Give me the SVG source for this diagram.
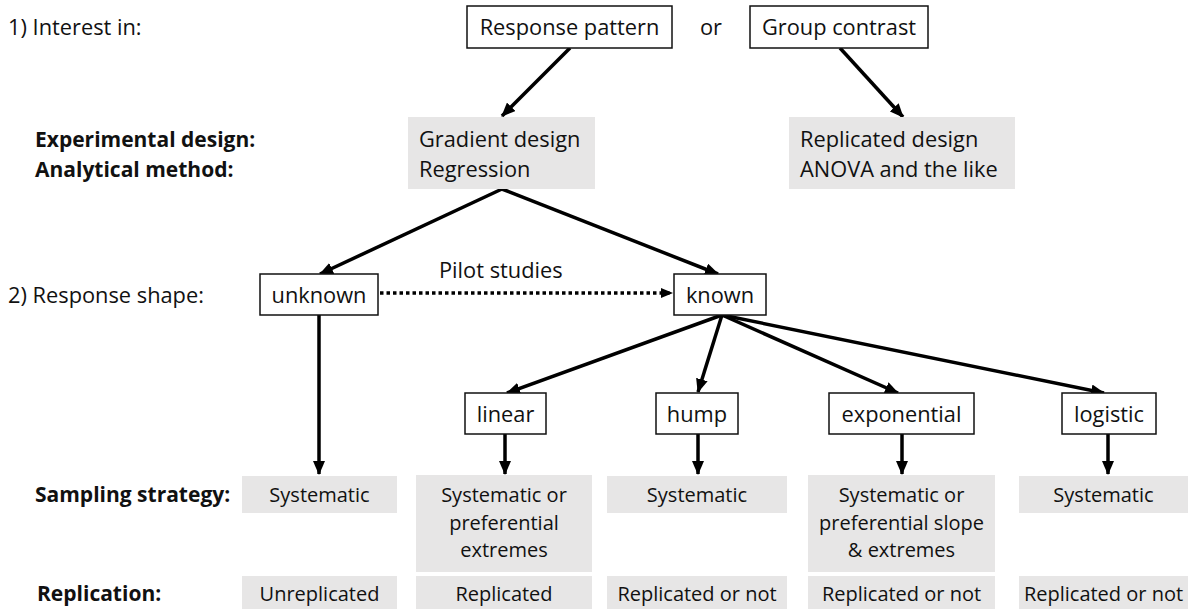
<svg xmlns="http://www.w3.org/2000/svg" width="1201" height="609" viewBox="0 0 1201 609">
<defs>
<style>
text{font-family:"Open Sans","Liberation Sans",sans-serif;font-size:21.8px;fill:#111}
.b{font-weight:bold;font-size:21px}
.c{text-anchor:middle}
.s{font-size:20px}
.box{fill:#fff;stroke:#111;stroke-width:1.5}
.g{fill:#e7e6e6}
.ln{stroke:#000;stroke-width:3.5;fill:none}
.dot{stroke:#000;stroke-width:3.5;fill:none;stroke-dasharray:3.5 3}
</style>
<marker id="ah" markerUnits="userSpaceOnUse" markerWidth="14" markerHeight="12" refX="13" refY="6" orient="auto"><path d="M0,0 L14,6 L0,12 z" fill="#000"/></marker>
<marker id="ahs" markerUnits="userSpaceOnUse" markerWidth="12" markerHeight="12" refX="11" refY="6" orient="auto"><path d="M0,1 L12,6 L0,11 z" fill="#000"/></marker>
</defs>
<rect width="1201" height="609" fill="#fff"/>
<g id="labels">
<text x="8" y="35">1) Interest in:</text>
<text x="700" y="35">or</text>
<text class="b" x="35" y="147">Experimental design:</text>
<text class="b" x="35" y="177">Analytical method:</text>
<text x="8" y="303">2) Response shape:</text>
<text x="439" y="278">Pilot studies</text>
<text class="b" x="35" y="502">Sampling strategy:</text>
<text class="b" x="37" y="601">Replication:</text>
</g>
<g id="connectors">
<line class="ln" x1="570" y1="48" x2="502" y2="116" marker-end="url(#ah)"/>
<line class="ln" x1="840" y1="48" x2="903" y2="117" marker-end="url(#ah)"/>
<line class="ln" x1="502" y1="189" x2="320" y2="274" marker-end="url(#ah)"/>
<line class="ln" x1="502" y1="189" x2="718" y2="274" marker-end="url(#ah)"/>
<line class="dot" x1="380" y1="293" x2="672" y2="293" marker-end="url(#ahs)"/>
<line class="ln" x1="319" y1="315" x2="319" y2="474" marker-end="url(#ah)"/>
<line class="ln" x1="722" y1="315" x2="507" y2="393" marker-end="url(#ah)"/>
<line class="ln" x1="722" y1="315" x2="698" y2="392" marker-end="url(#ah)"/>
<line class="ln" x1="722" y1="315" x2="898" y2="393" marker-end="url(#ah)"/>
<line class="ln" x1="722" y1="315" x2="1104" y2="393" marker-end="url(#ah)"/>
<line class="ln" x1="505" y1="434" x2="505" y2="474" marker-end="url(#ah)"/>
<line class="ln" x1="698" y1="433" x2="698" y2="474" marker-end="url(#ah)"/>
<line class="ln" x1="902" y1="434" x2="902" y2="474" marker-end="url(#ah)"/>
<line class="ln" x1="1108" y1="434" x2="1108" y2="474" marker-end="url(#ah)"/>
</g>
<g id="response-pattern"><rect class="box" x="467" y="6" width="205" height="42"/><text class="c" x="569.5" y="35">Response pattern</text></g>
<g id="group-contrast"><rect class="box" x="750" y="6" width="178" height="42"/><text class="c" x="839" y="35">Group contrast</text></g>
<g id="gradient-design"><rect class="g" x="408" y="117" width="187" height="72"/><text x="419" y="147">Gradient design</text><text x="419" y="177">Regression</text></g>
<g id="replicated-design"><rect class="g" x="789" y="117" width="226" height="72"/><text x="800" y="147">Replicated design</text><text x="800" y="177">ANOVA and the like</text></g>
<g id="unknown"><rect class="box" x="260" y="274" width="118" height="41"/><text class="c" x="319" y="303">unknown</text></g>
<g id="known"><rect class="box" x="674" y="274" width="92" height="41"/><text class="c" x="720" y="303">known</text></g>
<g id="linear"><rect class="box" x="465" y="393" width="81" height="41"/><text class="c" x="505.5" y="422">linear</text></g>
<g id="hump"><rect class="box" x="656" y="393" width="82" height="41"/><text class="c" x="697" y="422">hump</text></g>
<g id="exponential"><rect class="box" x="829" y="393" width="145" height="41"/><text class="c" x="901.5" y="422">exponential</text></g>
<g id="logistic"><rect class="box" x="1062" y="393" width="94" height="41"/><text class="c" x="1109" y="422">logistic</text></g>
<g id="samp-unknown"><rect class="g" x="242" y="476" width="155" height="37"/><text class="c s" x="319.5" y="502">Systematic</text></g>
<g id="samp-linear"><rect class="g" x="416" y="475" width="176" height="97"/><text class="c s" x="504" y="502">Systematic or</text><text class="c s" x="504" y="530">preferential</text><text class="c s" x="504" y="557">extremes</text></g>
<g id="samp-hump"><rect class="g" x="607" y="476" width="180" height="37"/><text class="c s" x="697" y="502">Systematic</text></g>
<g id="samp-exponential"><rect class="g" x="808" y="475" width="187" height="97"/><text class="c s" x="901.5" y="502">Systematic or</text><text class="c s" x="901.5" y="530">preferential slope</text><text class="c s" x="901.5" y="557">&amp; extremes</text></g>
<g id="samp-logistic"><rect class="g" x="1019" y="476" width="169" height="37"/><text class="c s" x="1103.5" y="502">Systematic</text></g>
<g id="rep-unknown"><rect class="g" x="242" y="576" width="155" height="36"/><text class="c s" x="319.5" y="601">Unreplicated</text></g>
<g id="rep-linear"><rect class="g" x="416" y="576" width="176" height="36"/><text class="c s" x="504" y="601">Replicated</text></g>
<g id="rep-hump"><rect class="g" x="607" y="576" width="180" height="36"/><text class="c s" x="697" y="601">Replicated or not</text></g>
<g id="rep-exponential"><rect class="g" x="808" y="576" width="187" height="36"/><text class="c s" x="901.5" y="601">Replicated or not</text></g>
<g id="rep-logistic"><rect class="g" x="1019" y="576" width="169" height="36"/><text class="c s" x="1103.5" y="601">Replicated or not</text></g>
</svg>
